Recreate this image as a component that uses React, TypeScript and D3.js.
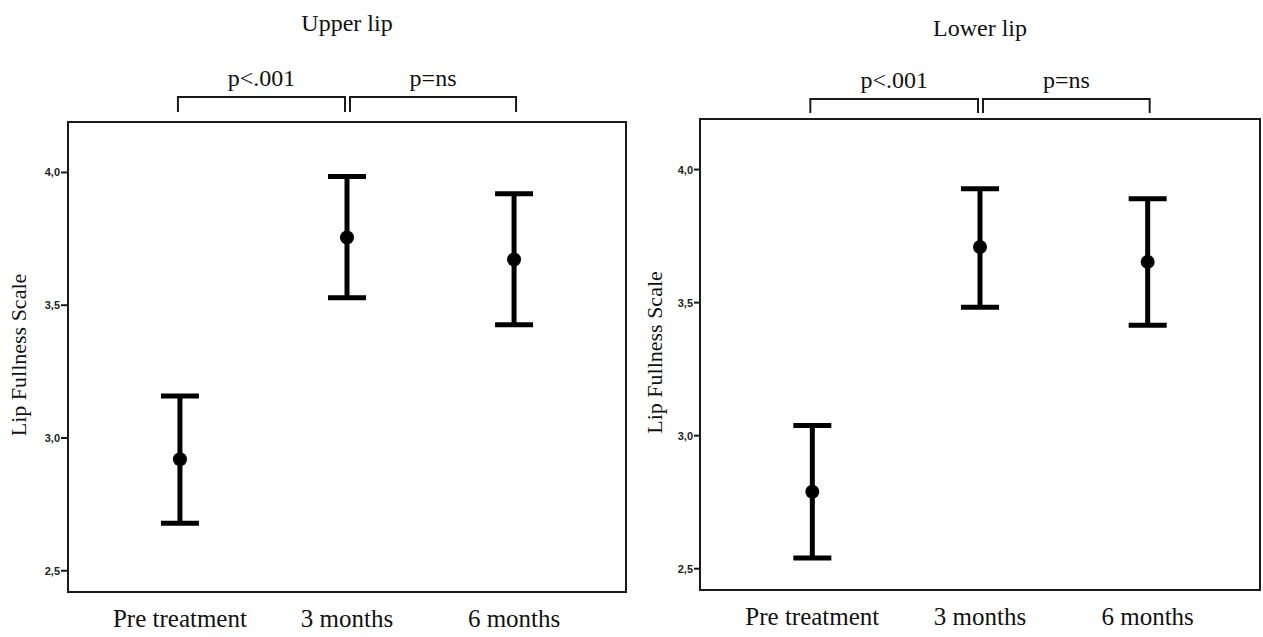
import React, {useRef, useEffect} from "react";
import {select, scaleLinear, scalePoint} from "d3";

const groups = ["Pre treatment", "3 months", "6 months"];
const yTicks = [2.5, 3.0, 3.5, 4.0];
const comparisons = ["p<.001", "p=ns"];

// upper lip: mean and 95% CI
const upperMean = [2.92, 3.755, 3.672];
const upperLow = [2.679, 3.528, 3.426];
const upperHigh = [3.158, 3.985, 3.92];

// lower lip
const lowerMean = [2.789, 3.709, 3.653];
const lowerLow = [2.54, 3.483, 3.415];
const lowerHigh = [3.038, 3.928, 3.89];

const serif = "'Liberation Serif', 'Times New Roman', serif";

const panels = [
    {title: "Upper lip", mean: upperMean, low: upperLow, high: upperHigh,
        left: 68, right: 626, top: 122, bottom: 592, titleY: 31, bracketTop: 97, bracketBottom: 112, pY: 86, labelX: 18, tickLen: 7},
    {title: "Lower lip", mean: lowerMean, low: lowerLow, high: lowerHigh,
        left: 700, right: 1260, top: 119, bottom: 590, titleY: 36, bracketTop: 99, bracketBottom: 113, pY: 88, labelX: 654, tickLen: 6},
];

export default function App() {
    const svgRef = useRef<SVGSVGElement | null>(null);
    const width = 1263;
    const height = 637;

    useEffect(() => {
        document.body.style.margin = "0";
        const svg = select(svgRef.current);
        if (!svgRef.current) return;
        svg.selectAll("*").remove();
        svg.append("rect").attr("width", width).attr("height", height).attr("fill", "#fff");

        panels.forEach((p) => {
            const g = svg.append("g");
            const x = scalePoint<string>().domain(groups).range([p.left, p.right]).padding(0.67);
            const y = scaleLinear().domain([2.42, 4.19]).range([p.bottom, p.top]);

            // frame
            g.append("rect")
                .attr("x", p.left).attr("y", p.top)
                .attr("width", p.right - p.left).attr("height", p.bottom - p.top)
                .attr("fill", "none").attr("stroke", "#1a1a1a").attr("stroke-width", 2);

            // y ticks
            yTicks.forEach((t) => {
                g.append("line")
                    .attr("x1", p.left - p.tickLen).attr("x2", p.left)
                    .attr("y1", y(t)).attr("y2", y(t))
                    .attr("stroke", "#1a1a1a").attr("stroke-width", 2);
                g.append("text")
                    .attr("x", p.left - p.tickLen - 1).attr("y", y(t) + 4)
                    .attr("text-anchor", "end")
                    .attr("font-family", "'Liberation Sans', Arial, sans-serif")
                    .attr("font-weight", "bold").attr("font-size", 11)
                    .attr("fill", "#222")
                    .text(t.toFixed(1).replace(".", ","));
            });

            // y label
            const midY = (p.top + p.bottom) / 2 - 2;
            g.append("text")
                .attr("transform", `translate(${p.labelX},${midY}) rotate(-90)`)
                .attr("text-anchor", "middle")
                .attr("dy", "0.35em")
                .attr("font-family", serif)
                .attr("font-size", 22)
                .attr("fill", "#111")
                .text("Lip Fullness Scale");

            // x labels
            groups.forEach((d) => {
                g.append("text")
                    .attr("x", x(d)!).attr("y", p.bottom + 35)
                    .attr("text-anchor", "middle")
                    .attr("font-family", serif)
                    .attr("font-size", 25)
                    .attr("fill", "#111")
                    .text(d);
            });

            // title
            g.append("text")
                .attr("x", x(groups[1])!).attr("y", p.titleY)
                .attr("text-anchor", "middle")
                .attr("font-family", serif)
                .attr("font-size", 24)
                .attr("fill", "#111")
                .text(p.title);

            // brackets
            comparisons.forEach((c, i) => {
                const x0 = x(groups[i])! + (i === 0 ? -2 : 3);
                const x1 = x(groups[i + 1])! + (i === 0 ? -2 : 2);
                g.append("path")
                    .attr("d", `M${x0},${p.bracketBottom}V${p.bracketTop}H${x1}V${p.bracketBottom}`)
                    .attr("fill", "none").attr("stroke", "#1a1a1a").attr("stroke-width", 2);
                g.append("text")
                    .attr("x", (x0 + x1) / 2).attr("y", p.pY)
                    .attr("text-anchor", "middle")
                    .attr("font-family", serif)
                    .attr("font-size", 24)
                    .attr("fill", "#111")
                    .text(c);
            });

            // error bars
            const capHalf = 19;
            groups.forEach((d, i) => {
                const cx = x(d)!;
                g.append("line")
                    .attr("x1", cx).attr("x2", cx)
                    .attr("y1", y(p.low[i])).attr("y2", y(p.high[i]))
                    .attr("stroke", "#000").attr("stroke-width", 5);
                [p.low[i], p.high[i]].forEach((v) => {
                    g.append("line")
                        .attr("x1", cx - capHalf).attr("x2", cx + capHalf)
                        .attr("y1", y(v)).attr("y2", y(v))
                        .attr("stroke", "#000").attr("stroke-width", 5);
                });
                g.append("circle")
                    .attr("cx", cx).attr("cy", y(p.mean[i]))
                    .attr("r", 7).attr("fill", "#000");
            });
        });
    }, []);

    return (
        <div style={{width: width, height: height}}>
            <svg ref={svgRef} width={width} height={height} style={{display: "block"}}></svg>
        </div>
    );
}
